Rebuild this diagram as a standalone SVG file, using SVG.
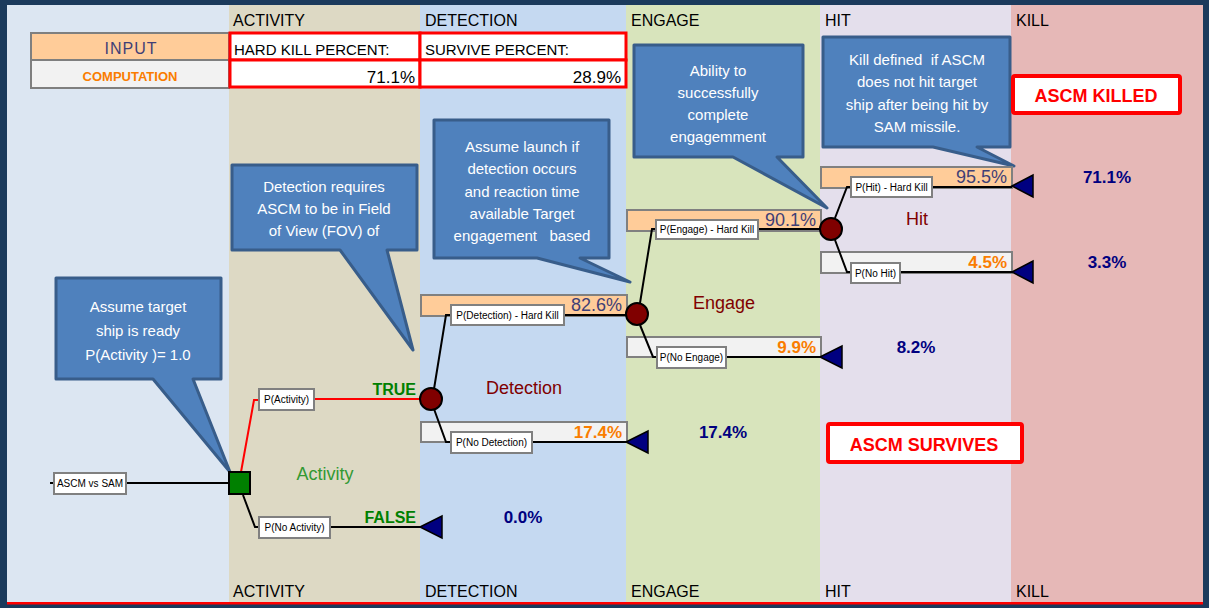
<svg xmlns="http://www.w3.org/2000/svg" width="1209" height="608" viewBox="0 0 1209 608">
<defs>
<style>
text{font-family:"Liberation Sans",Arial,sans-serif}
.hdr{font-size:16px;fill:#000}
.tbl{font-size:15px;fill:#000}
.pct{font-size:17px;fill:#000}
.co{fill:#4F81BD;stroke:#385D8A;stroke-width:3;stroke-linejoin:round}
.cot{font-size:15px;fill:#fff;text-anchor:middle;white-space:pre}
.lbl{fill:#fff;stroke:#808080;stroke-width:2}
.lblt{font-size:10px;fill:#000}
.bar-o{fill:#FFCC99;stroke:#808080;stroke-width:2}
.bar-g{fill:#F2F2F2;stroke:#808080;stroke-width:2}
.pv{font-size:18px;fill:#3F3F76;text-anchor:end}
.po{font-size:17px;font-weight:bold;fill:#FA7D00;text-anchor:end}
.pn{font-size:17px;font-weight:bold;fill:#000080;text-anchor:middle}
.chance{fill:#800000;stroke:#000;stroke-width:2}
.term{fill:#000080;stroke:#000;stroke-width:1.5}
.ln{fill:none;stroke:#000;stroke-width:2}
.lnr{fill:none;stroke:#FF0000;stroke-width:2}
.nm{font-size:18px;fill:#800000;text-anchor:middle}
.res{fill:#fff;stroke:#FF0000;stroke-width:4}
.rest{font-size:18px;font-weight:bold;fill:#FF0000;text-anchor:middle}
.redc{fill:#fff;stroke:#FF0000;stroke-width:3}
</style>
</defs>
<!-- frame and columns -->
<rect x="0" y="0" width="1209" height="608" fill="#1B3A5C"/>
<rect x="7" y="5" width="222" height="597" fill="#DCE6F2"/>
<rect x="229" y="5" width="191" height="597" fill="#DDD9C4"/>
<rect x="420" y="5" width="206" height="597" fill="#C5D9F1"/>
<rect x="626" y="5" width="194" height="597" fill="#D8E4BC"/>
<rect x="820" y="5" width="191" height="597" fill="#E4DFEC"/>
<rect x="1011" y="5" width="192" height="597" fill="#E6B8B7"/>
<rect x="7" y="602" width="1196" height="2.5" fill="#FF0000"/>
<g id="headers">
<text class="hdr" x="233" y="26">ACTIVITY</text>
<text class="hdr" x="425" y="26">DETECTION</text>
<text class="hdr" x="631" y="26">ENGAGE</text>
<text class="hdr" x="825" y="26">HIT</text>
<text class="hdr" x="1016" y="26">KILL</text>
<text class="hdr" x="233" y="597">ACTIVITY</text>
<text class="hdr" x="425" y="597">DETECTION</text>
<text class="hdr" x="631" y="597">ENGAGE</text>
<text class="hdr" x="825" y="597">HIT</text>
<text class="hdr" x="1016" y="597">KILL</text>
</g>
<g id="table">
<rect x="31" y="33" width="198" height="27" fill="#FFCC99" stroke="#7F7F7F" stroke-width="2"/>
<rect x="31" y="60" width="198" height="28" fill="#F2F2F2" stroke="#7F7F7F" stroke-width="2"/>
<text x="131" y="54" font-size="16" fill="#3F3F76" text-anchor="middle" letter-spacing="1">INPUT</text>
<text x="130" y="81" font-size="13" font-weight="bold" fill="#FA7D00" text-anchor="middle">COMPUTATION</text>
<rect class="redc" x="230" y="33" width="190" height="27"/>
<rect class="redc" x="230" y="60" width="190" height="27"/>
<rect class="redc" x="420" y="33" width="206" height="27"/>
<rect class="redc" x="420" y="60" width="206" height="27"/>
<text class="tbl" x="234" y="55">HARD KILL PERCENT:</text>
<text class="tbl" x="425" y="55">SURVIVE PERCENT:</text>
<text class="pct" x="415" y="83" text-anchor="end">71.1%</text>
<text class="pct" x="621" y="83" text-anchor="end">28.9%</text>
</g>
<!-- callouts -->
<g id="callout-activity">
<path class="co" d="M56,278 H221 V379 H193 L230,472 L153,379 H56 Z"/>
<text class="cot" x="138" y="312">Assume target</text>
<text class="cot" x="138" y="336">ship is ready</text>
<text class="cot" x="138" y="360">P(Activity )= 1.0</text>
</g>
<g id="callout-detection">
<path class="co" d="M232,165 H417 V250 H387 L413,350 L340,250 H232 Z"/>
<text class="cot" x="324" y="192">Detection requires</text>
<text class="cot" x="324" y="214">ASCM to be in Field</text>
<text class="cot" x="324" y="236">of View (FOV) of</text>
</g>
<g id="callout-launch">
<path class="co" d="M434,120 H609 V258 H580 L630,282 L537,258 H434 Z"/>
<text class="cot" x="522" y="152">Assume launch if</text>
<text class="cot" x="522" y="174">detection occurs</text>
<text class="cot" x="522" y="197">and reaction time</text>
<text class="cot" x="522" y="219">available Target</text>
<text class="cot" x="522" y="241" xml:space="preserve">engagement   based</text>
</g>
<g id="callout-engage">
<path class="co" d="M634,45 H803 V157 H777 L827,208 L733,157 H634 Z"/>
<text class="cot" x="718" y="76">Ability to</text>
<text class="cot" x="718" y="98">successfully</text>
<text class="cot" x="718" y="120">complete</text>
<text class="cot" x="718" y="142">engagemment</text>
</g>
<g id="callout-kill">
<path class="co" d="M823,37 H1010 V147 H977 L1014,166 L933,147 H823 Z"/>
<text class="cot" x="917" y="65" xml:space="preserve">Kill defined  if ASCM</text>
<text class="cot" x="917" y="87">does not hit target</text>
<text class="cot" x="917" y="110">ship after being hit by</text>
<text class="cot" x="917" y="132">SAM missile.</text>
</g>
<!-- bars -->
<g id="bars">
<rect class="bar-o" x="421" y="295" width="206" height="21"/>
<rect class="bar-g" x="421" y="422" width="206" height="20"/>
<rect class="bar-o" x="627" y="210" width="194" height="21"/>
<rect class="bar-g" x="627" y="337" width="194" height="20"/>
<rect class="bar-o" x="821" y="167" width="191" height="21"/>
<rect class="bar-g" x="821" y="252" width="191" height="21"/>
<text class="pv" x="622" y="311">82.6%</text>
<text class="po" x="622" y="438">17.4%</text>
<text class="pv" x="816" y="226">90.1%</text>
<text class="po" x="816" y="353">9.9%</text>
<text class="pv" x="1007" y="183">95.5%</text>
<text class="po" x="1007" y="268">4.5%</text>
</g>
<!-- connectors -->
<g id="connectors">
<path class="ln" d="M50,483 H229"/>
<path class="lnr" d="M241,472 L254,400 H259 M314,399 H420"/>
<path class="ln" d="M243,495 L255,527 H259 M330,527 H420"/>
<path class="ln" d="M434,389 L446,315 H451 M564,315 H626"/>
<path class="ln" d="M434,409 L446,442 H451 M532,442 H626"/>
<path class="ln" d="M640,303 L652,229 H656 M758,229 H820"/>
<path class="ln" d="M640,325 L653,357 H657 M726,357 H820"/>
<path class="ln" d="M835,218 L847,187 H851 M932,187 H1012"/>
<path class="ln" d="M835,240 L847,272 H851 M900,272 H1012"/>
</g>
<g id="node-root">
<rect class="lbl" x="54" y="473" width="72" height="21"/>
<text class="lblt" x="90" y="487" text-anchor="middle">ASCM vs SAM</text>
</g>
<g id="node-activity">
<rect x="229" y="472" width="21" height="22" fill="#008000" stroke="#000" stroke-width="2"/>
<text x="325" y="480" font-size="18" fill="#339933" text-anchor="middle">Activity</text>
</g>
<g id="label-p-activity">
<rect class="lbl" x="259" y="389" width="55" height="21"/>
<text class="lblt" x="286.5" y="403" text-anchor="middle">P(Activity)</text>
<text x="416" y="395" font-size="16" font-weight="bold" fill="#008000" text-anchor="end">TRUE</text>
</g>
<g id="label-p-no-activity">
<rect class="lbl" x="259" y="517" width="71" height="21"/>
<text class="lblt" x="294.5" y="531" text-anchor="middle">P(No Activity)</text>
<text x="416" y="523" font-size="16" font-weight="bold" fill="#008000" text-anchor="end">FALSE</text>
</g>
<g id="end-false">
<polygon class="term" points="420,527 442,516 442,538"/>
<text class="pn" x="523" y="523">0.0%</text>
</g>
<g id="node-detection">
<circle class="chance" cx="431" cy="399" r="11"/>
<text class="nm" x="524" y="394">Detection</text>
</g>
<g id="label-p-detection">
<rect class="lbl" x="451" y="305" width="113" height="20"/>
<text class="lblt" x="507.5" y="319" text-anchor="middle">P(Detection) - Hard Kill</text>
</g>
<g id="label-p-no-detection">
<rect class="lbl" x="451" y="432" width="81" height="21"/>
<text class="lblt" x="491.5" y="446" text-anchor="middle">P(No Detection)</text>
</g>
<g id="end-no-detection">
<polygon class="term" points="626,442 648,431 648,453"/>
<text class="pn" x="723" y="438">17.4%</text>
</g>
<g id="node-engage">
<circle class="chance" cx="637" cy="314" r="11"/>
<text class="nm" x="724" y="309">Engage</text>
</g>
<g id="label-p-engage">
<rect class="lbl" x="656" y="220" width="102" height="19"/>
<text class="lblt" x="707" y="233" text-anchor="middle">P(Engage) - Hard Kill</text>
</g>
<g id="label-p-no-engage">
<rect class="lbl" x="657" y="347" width="69" height="21"/>
<text class="lblt" x="691.5" y="361" text-anchor="middle">P(No Engage)</text>
</g>
<g id="end-no-engage">
<polygon class="term" points="820,357 842,346 842,368"/>
<text class="pn" x="916" y="353">8.2%</text>
</g>
<g id="node-hit">
<circle class="chance" cx="831" cy="229" r="11"/>
<text class="nm" x="917" y="225">Hit</text>
</g>
<g id="label-p-hit">
<rect class="lbl" x="851" y="177" width="81" height="20"/>
<text class="lblt" x="891.5" y="191" text-anchor="middle">P(Hit) - Hard Kill</text>
</g>
<g id="label-p-no-hit">
<rect class="lbl" x="851" y="263" width="49" height="20"/>
<text class="lblt" x="875.5" y="277" text-anchor="middle">P(No Hit)</text>
</g>
<g id="end-hit">
<polygon class="term" points="1012,186 1033,175 1033,197"/>
<text class="pn" x="1107" y="183">71.1%</text>
</g>
<g id="end-no-hit">
<polygon class="term" points="1012,272 1033,261 1033,283"/>
<text class="pn" x="1107" y="268">3.3%</text>
</g>
<g id="result-killed">
<rect class="res" x="1013" y="76" width="167" height="37" rx="2"/>
<text class="rest" x="1096" y="102">ASCM KILLED</text>
</g>
<g id="result-survives">
<rect class="res" x="828" y="424" width="194" height="38" rx="2"/>
<text class="rest" x="924" y="451">ASCM SURVIVES</text>
</g>
</svg>
